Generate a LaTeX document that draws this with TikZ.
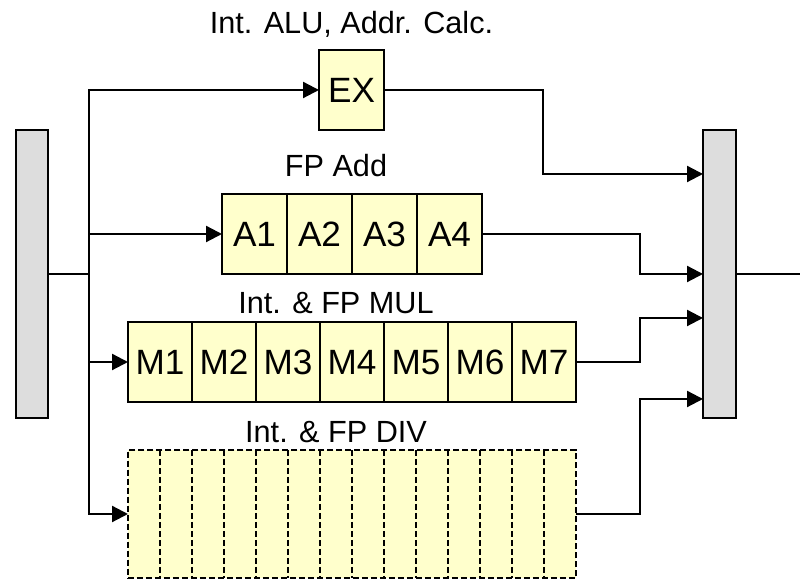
\documentclass[tikz,border=0pt]{standalone}
\usepackage{fontspec}
\setmainfont{Liberation Sans}
\usepackage{xcolor}
\usepackage{tikz}
\usetikzlibrary{positioning,arrows.meta}

\definecolor{stagefill}{HTML}{FFFFCC}
\definecolor{regfill}{HTML}{DDDDDD}

\begin{document}
\begin{tikzpicture}[
    stage/.style={draw, line width=1.4pt, fill=stagefill, minimum width=1.625cm, minimum height=2cm, inner sep=0pt, outer sep=0pt, text height=17.9pt, text depth=0pt, font=\fontsize{25}{29}\selectfont},
    divbox/.style={draw, dash pattern=on 4.3pt off 2.1pt, line width=1.4pt, fill=stagefill, minimum width=11.2cm, minimum height=3.2cm, inner sep=0pt, outer sep=0pt},
    divline/.style={dash pattern=on 4.3pt off 2.1pt, line width=1pt},
    reg/.style={draw, line width=1.4pt, fill=regfill, minimum width=0.8cm, minimum height=7.2cm, inner sep=0pt, outer sep=0pt},
    unitlabel/.style={font=\fontsize{21.8}{25}\selectfont, anchor=base},
    arrow/.style={-{Triangle[length=0.4cm, width=0.4cm]}, line width=1.6pt},
    wire/.style={line width=1.6pt}
]
\useasboundingbox (0,0) rectangle (20,14.5);

% Pipeline registers
\node[reg] (lreg) at (0.8,7.65) {};
\node[reg, minimum width=0.825cm] (rreg) at (17.9875,7.65) {};

% Integer unit
\node[stage] (ex) at (8.7875,12.25) {EX};

% FP adder
\node[stage] (a1) at (6.3625,8.65) {A1};
\node[stage, right=0pt of a1] (a2) {A2};
\node[stage, right=0pt of a2] (a3) {A3};
\node[stage, right=0pt of a3] (a4) {A4};

% Multiplier
\node[stage, minimum width=1.6cm] (m1) at (4,5.45) {M1};
\node[stage, minimum width=1.6cm, right=0pt of m1] (m2) {M2};
\node[stage, minimum width=1.6cm, right=0pt of m2] (m3) {M3};
\node[stage, minimum width=1.6cm, right=0pt of m3] (m4) {M4};
\node[stage, minimum width=1.6cm, right=0pt of m4] (m5) {M5};
\node[stage, minimum width=1.6cm, right=0pt of m5] (m6) {M6};
\node[stage, minimum width=1.6cm, right=0pt of m6] (m7) {M7};

% Divider (not pipelined)
\node[divbox] (div) at (8.8,1.65) {};
\foreach \i in {1,...,13}
    \draw[divline] ([xshift=\i*0.8cm]div.north west) -- ([xshift=\i*0.8cm]div.south west);

% Unit labels
\node[unitlabel] (exlbl) at (8.7875,13.67) {Int. ALU, Addr. Calc.};
\node[unitlabel] (addlbl) at (8.4,10.08) {FP Add};
\node[unitlabel] (mullbl) at (8.4,6.65) {Int. \& FP MUL};
\node[unitlabel] (divlbl) at (8.4,3.43) {Int. \& FP DIV};

% Issue
\coordinate (split) at (2.225,7.65);
\draw[wire] (lreg.east) -- (split);
\draw[arrow] (split) |- (ex.west);
\draw[arrow] (split) |- (a1.west);
\draw[arrow] (split) |- (m1.west);
\draw[arrow] (split) |- (div.west);

% Write-back
\coordinate (in1) at (17.575,10.15);
\coordinate (in3) at (17.575,6.55);
\coordinate (in4) at (17.575,4.525);
\coordinate (out) at (20,7.65);
\draw[arrow] (ex.east) -| ([xshift=-4cm]in1) -- (in1);
\draw[arrow] (a4.east) -| ([xshift=-1.575cm]rreg.west) -- (rreg.west);
\draw[arrow] (m7.east) -| ([xshift=-1.575cm]in3) -- (in3);
\draw[arrow] (div.east) -| ([xshift=-1.575cm]in4) -- (in4);
\draw[wire] (rreg.east) -- (out);

\end{tikzpicture}
\end{document}
